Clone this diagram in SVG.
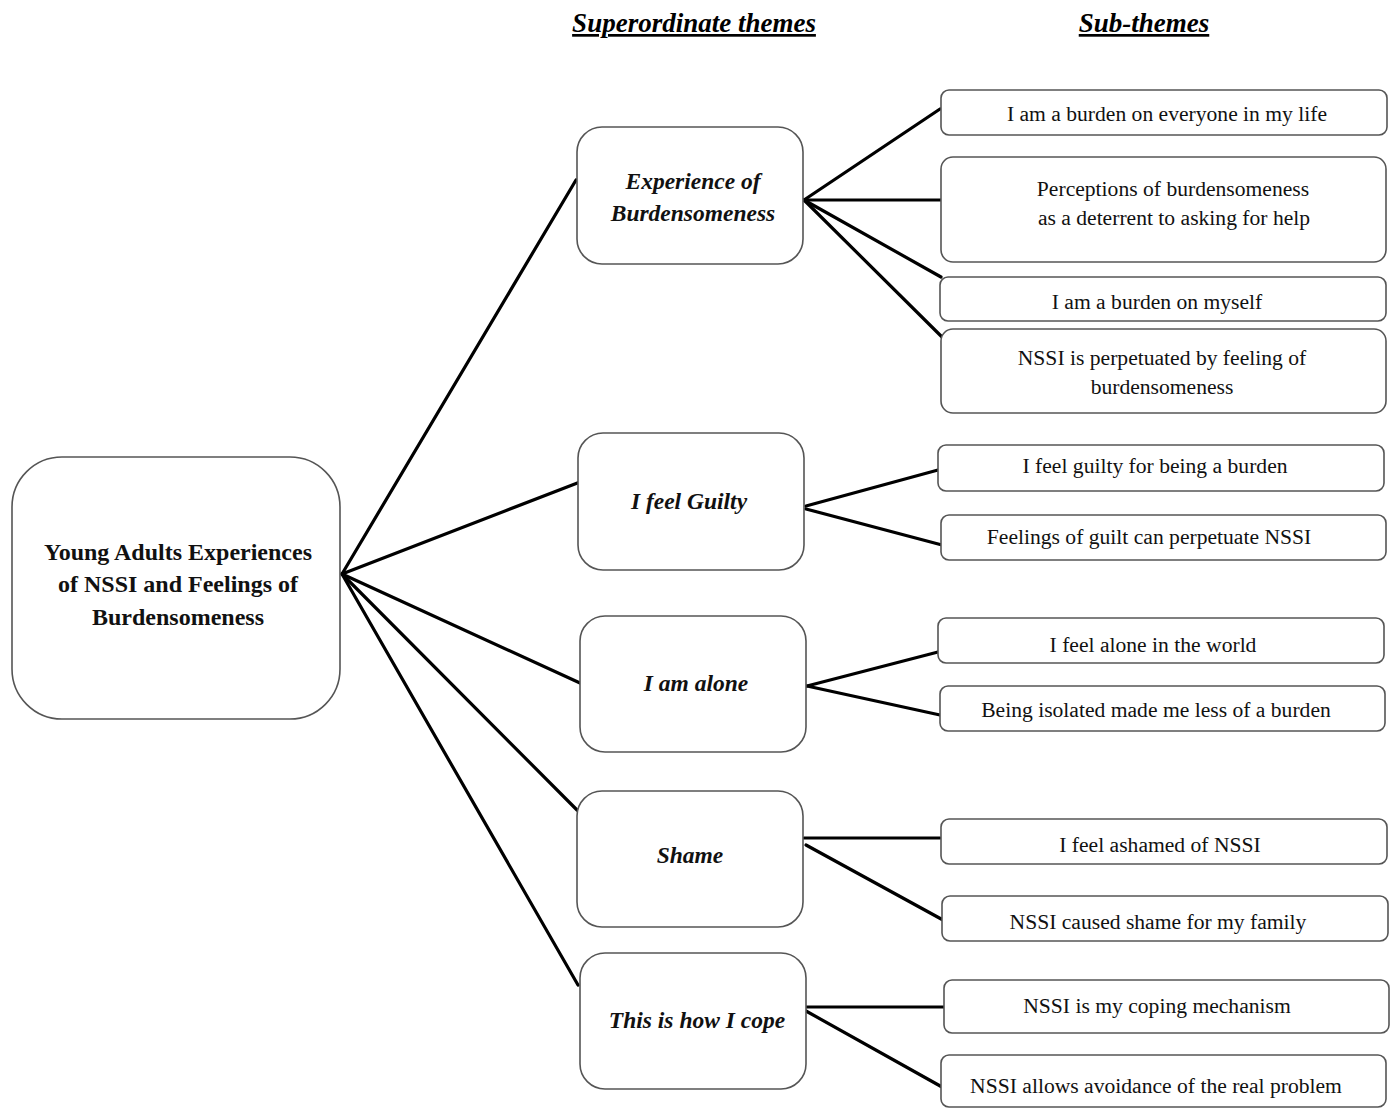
<svg xmlns="http://www.w3.org/2000/svg" width="1390" height="1109" viewBox="0 0 1390 1109">
  <style>
    .box { fill: #ffffff; stroke: #555555; stroke-width: 1.6; }
    .link { stroke: #000000; stroke-width: 3.2; fill: none; stroke-linecap: round; }
    .hdr { font-family: "Liberation Serif", "Times New Roman", serif; font-size: 27px; font-weight: bold; font-style: italic; text-decoration: underline; fill: #000; text-anchor: middle; }
    .root { font-family: "Liberation Serif", "Times New Roman", serif; font-size: 24px; font-weight: bold; fill: #111; text-anchor: middle; }
    .theme { font-family: "Liberation Serif", "Times New Roman", serif; font-size: 23.5px; font-weight: bold; font-style: italic; fill: #111; text-anchor: middle; }
    .sub { font-family: "Liberation Serif", "Times New Roman", serif; font-size: 21.6px; fill: #111; text-anchor: middle; }
  </style>

  <!-- column headings -->
  <text class="hdr" x="694" y="32">Superordinate themes</text>
  <text class="hdr" x="1144" y="32">Sub-themes</text>

  <!-- connectors -->
  <g id="connectors">
    <line class="link" x1="342" y1="574" x2="576" y2="180"/>
    <line class="link" x1="342" y1="574" x2="580" y2="482"/>
    <line class="link" x1="342" y1="574" x2="580" y2="683"/>
    <line class="link" x1="342" y1="574" x2="577" y2="810"/>
    <line class="link" x1="342" y1="574" x2="578" y2="985"/>

    <line class="link" x1="804" y1="200" x2="940" y2="109"/>
    <line class="link" x1="804" y1="200" x2="942" y2="200"/>
    <line class="link" x1="804" y1="200" x2="941" y2="277"/>
    <line class="link" x1="804" y1="200" x2="942" y2="337"/>

    <line class="link" x1="806" y1="506" x2="938" y2="470"/>
    <line class="link" x1="806" y1="509" x2="942" y2="545"/>

    <line class="link" x1="807" y1="686" x2="938" y2="652"/>
    <line class="link" x1="807" y1="686" x2="940" y2="715"/>

    <line class="link" x1="804" y1="838" x2="940" y2="838"/>
    <line class="link" x1="806" y1="845" x2="943" y2="920"/>

    <line class="link" x1="805" y1="1007" x2="944" y2="1007"/>
    <line class="link" x1="806" y1="1011" x2="942" y2="1087"/>
  </g>

  <!-- central topic -->
  <g id="root">
    <rect class="box" x="12" y="457" width="328" height="262" rx="50" ry="50"/>
    <text class="root" x="178" y="560">Young Adults Experiences</text>
    <text class="root" x="178" y="592">of NSSI and Feelings of</text>
    <text class="root" x="178" y="625">Burdensomeness</text>
  </g>

  <!-- superordinate themes -->
  <g id="theme-burdensomeness">
    <rect class="box" x="577" y="127" width="226" height="137" rx="25" ry="25"/>
    <text class="theme" x="693" y="189">Experience of</text>
    <text class="theme" x="693" y="221">Burdensomeness</text>
  </g>
  <g id="theme-guilty">
    <rect class="box" x="578" y="433" width="226" height="137" rx="25" ry="25"/>
    <text class="theme" x="689" y="509">I feel Guilty</text>
  </g>
  <g id="theme-alone">
    <rect class="box" x="580" y="616" width="226" height="136" rx="25" ry="25"/>
    <text class="theme" x="696" y="691">I am alone</text>
  </g>
  <g id="theme-shame">
    <rect class="box" x="577" y="791" width="226" height="136" rx="25" ry="25"/>
    <text class="theme" x="690" y="863">Shame</text>
  </g>
  <g id="theme-cope">
    <rect class="box" x="580" y="953" width="226" height="136" rx="25" ry="25"/>
    <text class="theme" x="697" y="1028">This is how I cope</text>
  </g>

  <!-- sub-themes -->
  <g id="sub-burden-everyone">
    <rect class="box" x="941" y="90" width="446" height="45" rx="8" ry="8"/>
    <text class="sub" x="1167" y="121">I am a burden on everyone in my life</text>
  </g>
  <g id="sub-deterrent">
    <rect class="box" x="941" y="157" width="445" height="105" rx="12" ry="12"/>
    <text class="sub" x="1173" y="196">Perceptions of burdensomeness</text>
    <text class="sub" x="1174" y="225">as a deterrent to asking for help</text>
  </g>
  <g id="sub-burden-myself">
    <rect class="box" x="940" y="277" width="446" height="44" rx="8" ry="8"/>
    <text class="sub" x="1157" y="309">I am a burden on myself</text>
  </g>
  <g id="sub-perpetuated">
    <rect class="box" x="941" y="329" width="445" height="84" rx="12" ry="12"/>
    <text class="sub" x="1162" y="365">NSSI is perpetuated by feeling of</text>
    <text class="sub" x="1162" y="394">burdensomeness</text>
  </g>
  <g id="sub-guilty-burden">
    <rect class="box" x="938" y="445" width="446" height="46" rx="8" ry="8"/>
    <text class="sub" x="1155" y="473">I feel guilty for being a burden</text>
  </g>
  <g id="sub-guilt-nssi">
    <rect class="box" x="941" y="515" width="445" height="45" rx="8" ry="8"/>
    <text class="sub" x="1149" y="544">Feelings of guilt can perpetuate NSSI</text>
  </g>
  <g id="sub-alone-world">
    <rect class="box" x="938" y="618" width="446" height="45" rx="8" ry="8"/>
    <text class="sub" x="1153" y="652">I feel alone in the world</text>
  </g>
  <g id="sub-isolated">
    <rect class="box" x="940" y="686" width="445" height="45" rx="8" ry="8"/>
    <text class="sub" x="1156" y="717">Being isolated made me less of a burden</text>
  </g>
  <g id="sub-ashamed">
    <rect class="box" x="941" y="819" width="446" height="45" rx="8" ry="8"/>
    <text class="sub" x="1160" y="852">I feel ashamed of NSSI</text>
  </g>
  <g id="sub-family">
    <rect class="box" x="942" y="896" width="446" height="45" rx="8" ry="8"/>
    <text class="sub" x="1158" y="929">NSSI caused shame for my family</text>
  </g>
  <g id="sub-coping">
    <rect class="box" x="944" y="980" width="445" height="53" rx="8" ry="8"/>
    <text class="sub" x="1157" y="1013">NSSI is my coping mechanism</text>
  </g>
  <g id="sub-avoidance">
    <rect class="box" x="941" y="1055" width="445" height="52" rx="8" ry="8"/>
    <text class="sub" x="1156" y="1093">NSSI allows avoidance of the real problem</text>
  </g>
</svg>
